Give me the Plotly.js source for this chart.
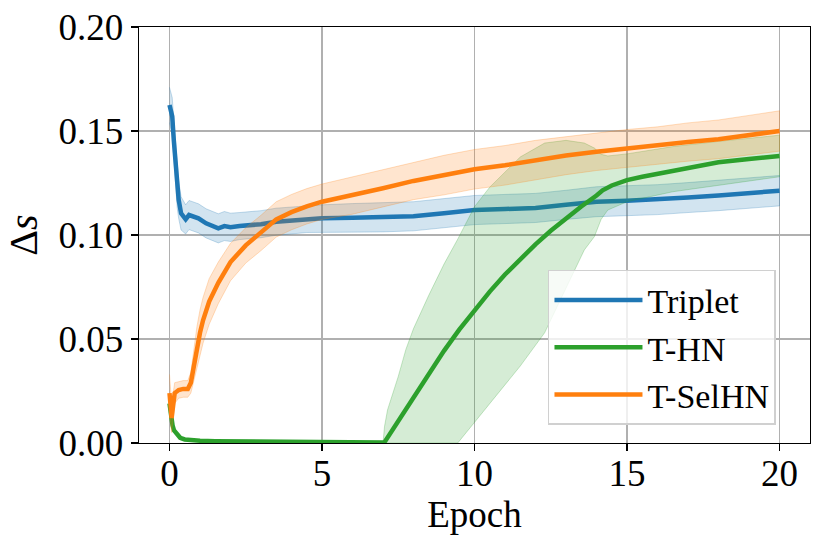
<!DOCTYPE html>
<html>
<head>
<meta charset="utf-8">
<script src="https://cdn.plot.ly/plotly-3.0.1.min.js"></script>
<style>
  body { margin: 0; background: #fff; }
  #graph { width: 830px; height: 550px; }
</style>
</head>
<body>
<div id="graph"></div>
<script>
// Triplet
let blueX = [0,0.09,0.14,0.2,0.25,0.3,0.38,0.47,0.53,0.64,0.8,0.95,1.2,1.4,1.6,1.8,2,2.3,2.6,3,3.5,4,4.5,5,6,7,8,9,10,11,12,13,14,15,16,17,18,19,20];
let blueY = [0.1625,0.157,0.1457,0.1346,0.1232,0.117,0.1104,0.1088,0.1075,0.1096,0.1088,0.108,0.1056,0.1045,0.1032,0.1043,0.1037,0.1043,0.1046,0.1052,0.1064,0.107,0.1077,0.108,0.1083,0.1085,0.109,0.1105,0.112,0.1125,0.113,0.1145,0.116,0.1165,0.117,0.118,0.119,0.120,0.1213];
let blueErr = [0.0085,0.009,0.01,0.01,0.01,0.009,0.008,0.0075,0.007,0.007,0.007,0.007,0.007,0.007,0.007,0.007,0.0068,0.0065,0.0065,0.0065,0.0065,0.0065,0.0065,0.0065,0.0068,0.007,0.007,0.007,0.007,0.007,0.007,0.007,0.0072,0.0072,0.0072,0.0072,0.0073,0.0073,0.0073];

// T-HN
let greenX = [0,0.05,0.1,0.15,0.25,0.35,0.5,0.75,1,1.5,2,3,4,5,6,7,7.05,7.5,8,8.5,9,9.5,10,10.5,11,11.5,12,12.5,13,13.5,14,14.2,14.5,15,15.5,16,16.5,17,18,19,20];
let greenY = [0.019,0.012,0.0085,0.006,0.0038,0.0025,0.0017,0.0013,0.0011,0.0009,0.0008,0.0006,0.0005,0.0005,0.0004,0.0003,0.0004,0.0105,0.0222,0.0335,0.0443,0.0545,0.064,0.0728,0.081,0.0885,0.0955,0.102,0.108,0.1137,0.119,0.1215,0.1238,0.1264,0.128,0.1295,0.131,0.1325,0.135,0.1365,0.138];
let greenBandX = [7,7.05,7.15,7.3,7.5,7.75,8,8.5,9,9.45,10,10.5,10.87,11.5,12.3,13,13.6,13.93,14.15,14.37,15,16.5,18,20];
let greenHi = [0,0.008,0.016,0.023,0.032,0.045,0.055,0.071,0.086,0.098,0.1136,0.123,0.1285,0.1375,0.1442,0.1455,0.1442,0.1418,0.1388,0.138,0.139,0.1425,0.145,0.148];
let greenLo = [0,0,0,0,0,0,0,0,0,0,0.0099,0.019,0.0255,0.037,0.053,0.0745,0.0928,0.0992,0.1075,0.112,0.116,0.1208,0.124,0.128];

// T-SelHN
let orangeX = [0,0.07,0.17,0.3,0.45,0.6,0.7,0.8,0.9,1.0,1.1,1.3,1.6,2,2.5,3,3.5,4,4.5,5,6,7,8,9,10,11,12,13,14,15,16,17,18,19,20];
let orangeY = [0.024,0.012,0.024,0.0255,0.026,0.026,0.029,0.037,0.046,0.053,0.059,0.068,0.077,0.087,0.095,0.101,0.1075,0.111,0.1138,0.116,0.119,0.1225,0.126,0.1288,0.1316,0.1335,0.136,0.1382,0.140,0.1417,0.143,0.1447,0.146,0.148,0.150];
let orangeErr = [0.009,0.007,0.005,0.004,0.004,0.004,0.005,0.008,0.01,0.011,0.011,0.011,0.01,0.009,0.0085,0.0085,0.0085,0.0085,0.0085,0.0085,0.009,0.009,0.009,0.0095,0.0095,0.0095,0.0095,0.0092,0.009,0.009,0.009,0.0092,0.0093,0.0095,0.0097];

let names = ["Triplet", "T-HN", "T-SelHN"];
let colors = ["#1f77b4", "#2ca02c", "#ff7f0e"];
let fills = ["rgba(31,119,180,0.2)", "rgba(44,160,44,0.2)", "rgba(255,127,14,0.2)"];
let edges = ["rgba(31,119,180,0.25)", "rgba(44,160,44,0.25)", "rgba(255,127,14,0.25)"];

//band polygon from upper and lower edges
let band = (xs, lo, hi, i)=>{
    return {
        x: xs.concat(xs.slice().reverse()),
        y: hi.concat(lo.slice().reverse()),
        mode: "lines",
        fill: "toself",
        fillcolor: fills[i],
        line: {color: edges[i], width: 1},
        hoverinfo: "skip",
        showlegend: false
    };
}

let line = (xs, ys, i)=>{
    return {
        x: xs,
        y: ys,
        mode: "lines",
        name: names[i],
        line: {color: colors[i], width: 4.5},
        legendgroup: names[i]
    };
}

let graphData = [
    band(blueX, blueY.map((v, k)=>v - blueErr[k]), blueY.map((v, k)=>v + blueErr[k]), 0),
    line(blueX, blueY, 0),
    band(greenBandX, greenLo, greenHi, 1),
    line(greenX, greenY, 1),
    band(orangeX, orangeY.map((v, k)=>v - orangeErr[k]), orangeY.map((v, k)=>v + orangeErr[k]), 2),
    line(orangeX, orangeY, 2)
];

let axisStyle = {
    showline: true,
    mirror: true,
    linecolor: "#000",
    linewidth: 1.3,
    ticks: "outside",
    ticklen: 7,
    tickwidth: 1.3,
    tickcolor: "#000",
    showgrid: true,
    gridcolor: "#b0b0b0",
    gridwidth: 1.2,
    zeroline: false,
    tickfont: {family: "Liberation Serif", size: 37, color: "#000"}
};

let layout = {
    width: 830,
    height: 550,
    margin: {l: 139, r: 20, t: 27, b: 107},
    paper_bgcolor: "#fff",
    plot_bgcolor: "#fff",
    font: {family: "Liberation Serif", color: "#000"},
    xaxis: Object.assign({}, axisStyle, {
        range: [-1, 21],
        tickmode: "linear",
        tick0: 0,
        dtick: 5,
        ticklabelstandoff: -10,
        title: {text: "Epoch", font: {family: "Liberation Serif", size: 37}, standoff: 0}
    }),
    yaxis: Object.assign({}, axisStyle, {
        range: [0, 0.2],
        tickmode: "linear",
        tick0: 0,
        dtick: 0.05,
        tickformat: ".2f",
        title: {text: "Δ<i>s</i>", font: {family: "Liberation Serif", size: 40}, standoff: 8}
    }),
    legend: {
        x: 0.6095,
        y: 0.416,
        xanchor: "left",
        yanchor: "top",
        bgcolor: "rgba(255,255,255,0.8)",
        bordercolor: "#d0d0d0",
        borderwidth: 1.5,
        font: {family: "Liberation Serif", size: 34, color: "#000"},
        traceorder: "grouped",
        tracegroupgap: 0,
        itemwidth: 88
    },
    showlegend: true
};

Plotly.newPlot("graph", graphData, layout, {staticPlot: true, displayModeBar: false});
</script>
</body>
</html>
